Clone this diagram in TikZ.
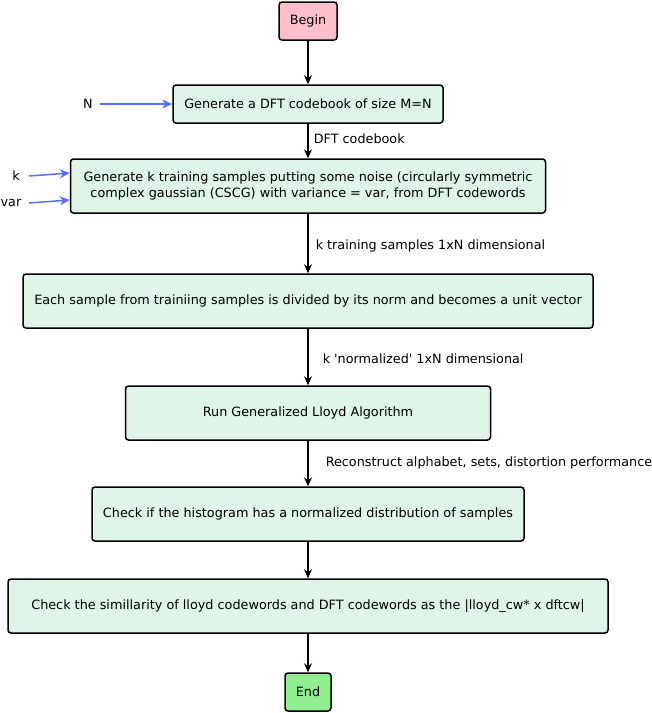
\documentclass[tikz,border=0pt]{standalone}
\usepackage{fontspec}
\setmainfont{DejaVu Sans}
\usetikzlibrary{arrows.meta}
\definecolor{boxfill}{RGB}{222,245,232}
\definecolor{beginfill}{RGB}{255,192,203}
\definecolor{endfill}{RGB}{144,238,144}
\definecolor{inblue}{RGB}{88,108,255}
\begin{document}
\begin{tikzpicture}[x=1pt,y=-1pt,
  every node/.style={font=\fontsize{12.8}{16.5}\selectfont},
  stepbox/.style={draw=black,line width=1.5pt,rounded corners=3pt,fill=boxfill,
    inner sep=0pt,align=center},
  flow/.style={draw=black,line width=1.5pt,-{Stealth[length=9pt,width=8pt]}},
  inflow/.style={draw=inblue,line width=1.5pt,-{Stealth[length=10pt,width=9pt]}},
  lbl/.style={anchor=west,inner sep=0pt}]
\useasboundingbox (0,0) rectangle (652,713);
\node[stepbox,fill=beginfill,minimum width=58pt,minimum height=38pt] (begin) at (308,21) {Begin};
\node[stepbox,minimum width=270pt,minimum height=38pt] (dft) at (308,104) {Generate a DFT codebook of size M=N};
\node[stepbox,minimum width=475pt,minimum height=54pt] (train) at (308,186)
  {Generate k training samples putting some noise (circularly symmetric\\complex gaussian (CSCG) with variance = var, from DFT codewords};
\node[stepbox,minimum width=570pt,minimum height=54pt] (norm) at (308,301) {Each sample from trainiing samples is divided by its norm and becomes a unit vector};
\node[stepbox,minimum width=365pt,minimum height=54pt] (lloyd) at (308,413) {Run Generalized Lloyd Algorithm};
\node[stepbox,minimum width=432pt,minimum height=54pt] (hist) at (308,514) {Check if the histogram has a normalized distribution of samples};
\node[stepbox,minimum width=600pt,minimum height=54pt] (sim) at (308,606) {Check the simillarity of lloyd codewords and DFT codewords as the |lloyd\_cw* x dftcw|};
\node[stepbox,fill=endfill,minimum width=46pt,minimum height=38pt] (end) at (308,692) {End};

% inputs
\node (inN) at (88,104) {N};
\node (ink) at (16,176) {k};
\node (invar) at (11,203) {var};
\coordinate (nA) at (100,104);
\coordinate (kA) at (29,176);
\coordinate (vA) at (29,203);
\draw[inflow] (nA) -- (dft.west);
\draw[inflow] (kA) -- (train.west |- 0,173);
\draw[inflow] (vA) -- (train.west |- 0,200);

% main flow
\draw[flow] (begin) -- (begin |- dft.north);
\draw[flow] (dft) -- (dft |- train.north) node[lbl,pos=0.44,xshift=5pt] {DFT codebook};
\draw[flow] (train) -- (train |- norm.north) node[lbl,pos=0.54,xshift=7pt] {k training samples 1xN dimensional};
\draw[flow] (norm) -- (norm |- lloyd.north) node[lbl,pos=0.53,xshift=14pt] {k \textquotesingle normalized\textquotesingle\ 1xN dimensional};
\draw[flow] (lloyd) -- (lloyd |- hist.north) node[lbl,pos=0.49,xshift=17pt] {Reconstruct alphabet, sets, distortion performance};
\draw[flow] (hist) -- (hist |- sim.north);
\draw[flow] (sim) -- (sim |- end.north);
\end{tikzpicture}
\end{document}
